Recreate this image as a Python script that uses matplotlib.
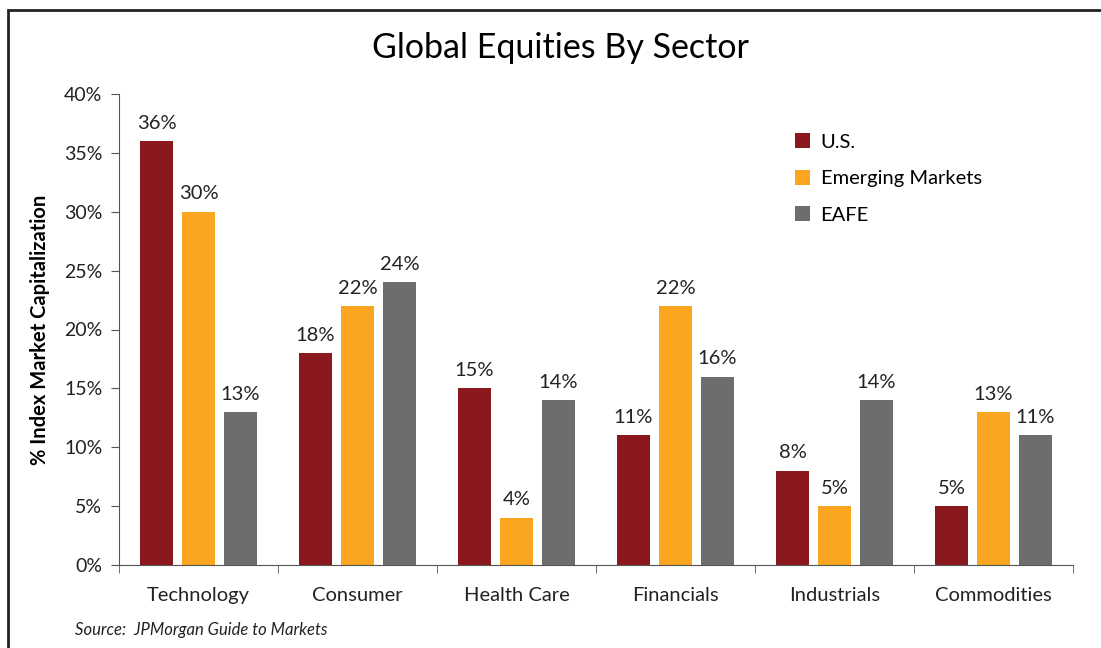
import matplotlib.pyplot as plt
import numpy as np
from matplotlib.patches import Rectangle

sectors = ["Technology", "Consumer", "Health Care", "Financials", "Industrials", "Commodities"]
series_names = ["U.S.", "Emerging Markets", "EAFE"]
us = [36, 18, 15, 11, 8, 5]
em = [30, 22, 4, 22, 5, 13]
eafe = [13, 24, 14, 16, 14, 11]
colors = ["#8B181C", "#F9A51F", "#6D6D6D"]

plt.rcParams['font.family'] = ['Lato', 'DejaVu Sans']

fig = plt.figure(figsize=(11.01, 6.48), dpi=100)
ax = fig.add_axes([119 / 1101, 1 - 565 / 648, (1073 - 119) / 1101, (565 - 94) / 648])

# outer frame, clipped at right and bottom
fig.patches.append(Rectangle((8 / 1101, -0.1), 1.2, 1 - 10 / 648 + 0.1,
                             transform=fig.transFigure, fill=False,
                             edgecolor="#222222", linewidth=2))

x = np.arange(len(sectors))
w = 0.21
step = 0.264
for i, (vals, name) in enumerate(zip([us, em, eafe], series_names)):
    pos = x + (i - 1) * step
    ax.bar(pos, vals, width=w, color=colors[i], label=name)
    for p, v in zip(pos, vals):
        ax.text(p, v + 0.8, f"{v}%", ha="center", va="bottom", fontsize=14.5, color="#222222")

ax.set_xlim(-0.5, len(sectors) - 0.5)
ax.set_ylim(0, 40)
ax.set_yticks(range(0, 41, 5))
ax.set_yticklabels([f"{t}%" for t in range(0, 41, 5)], fontsize=14, color="#222222")
ax.set_xticks(x)
ax.set_xticklabels(sectors, fontsize=14.5, color="#222222")
ax.set_xticks(np.arange(len(sectors) + 1) - 0.5, minor=True)
ax.tick_params(axis="x", which="major", length=0, pad=16)
ax.tick_params(axis="x", which="minor", length=6, color="#555555")
ax.tick_params(axis="y", length=6, color="#555555", pad=6)

for s in ["top", "right"]:
    ax.spines[s].set_visible(False)
ax.spines["left"].set_color("#555555")
ax.spines["bottom"].set_color("#555555")

ax.set_ylabel("% Index Market Capitalization", fontsize=14.5, fontweight="bold", labelpad=10)

fig.text(560 / 1101, 1 - 48 / 648, "Global Equities By Sector", ha="center", va="center",
         fontsize=24.5, color="black")

leg = ax.legend(loc="upper left", bbox_to_anchor=(0.69, 0.955), frameon=False, fontsize=14.5,
                handlelength=0.75, handleheight=0.75, handletextpad=0.5, labelspacing=0.95)

fig.text(75 / 1101, 1 - 630 / 648, "Source:  JPMorgan Guide to Markets", ha="left", va="center",
         fontsize=12, style="italic", color="#222222")

fig.savefig("out.png", dpi=100)
